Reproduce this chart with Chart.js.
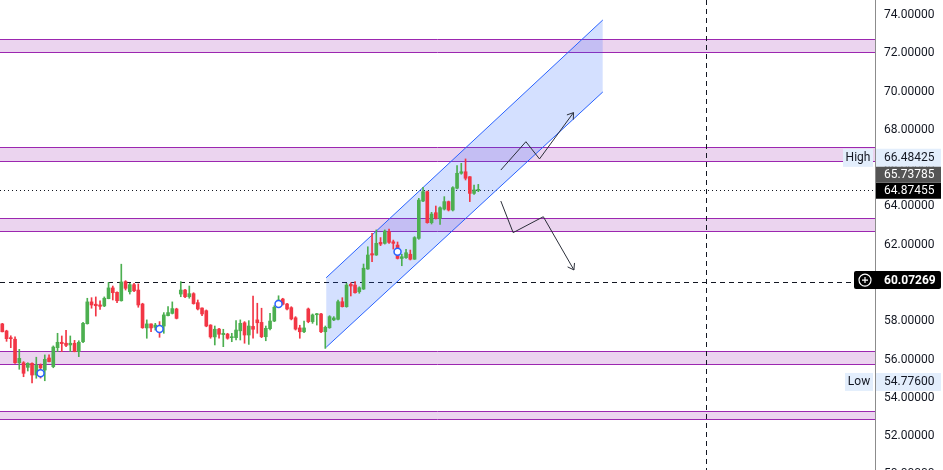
<!DOCTYPE html>
<html>
<head>
<meta charset="utf-8">
<script src="https://cdn.jsdelivr.net/npm/chart.js@4.4.1/dist/chart.umd.min.js"></script>
<style>
html, body { margin: 0; padding: 0; overflow: hidden; background: #fff; }
#wrap { position: relative; width: 943px; height: 482px; }
</style>
</head>
<body>
<div id="wrap"><canvas id="price-chart"></canvas></div>
<script>
// candles (one bar per index)
const opens = [57.86,57.49,57.12,57.06,55.83,55.83,55.59,55.80,55.19,55.71,
  55.45,56.08,55.63,56.62,56.90,56.85,56.76,56.85,56.41,56.93,
  57.87,59.01,58.89,58.85,58.80,59.18,59.74,59.51,59.07,60.07,
  59.54,59.91,59.63,58.90,57.65,57.86,57.68,57.71,57.75,58.29,
  58.41,58.64,59.42,59.63,59.28,59.44,58.97,58.69,58.55,57.80,
  57.18,57.59,57.30,57.33,57.14,57.14,57.50,57.92,57.28,57.73,
  58.07,57.94,57.19,57.61,58.01,58.85,59.16,58.90,58.71,58.18,
  57.65,57.45,58.64,57.98,58.34,58.38,57.45,57.66,58.07,58.10,
  59.02,58.76,59.93,59.89,59.54,59.68,60.73,61.53,61.46,62.12,
  62.07,62.68,62.15,61.98,61.28,61.32,61.50,61.24,62.33,64.28,
  64.77,63.15,63.67,63.38,63.86,64.25,63.81,64.95,65.73,65.81,
  65.55,64.68,64.84];
const highs = [57.89,57.53,57.24,57.18,56.53,55.89,55.83,55.83,56.12,55.77,
  56.24,56.24,56.71,57.37,57.23,57.53,57.23,57.00,56.98,57.94,
  59.20,59.23,59.27,59.06,59.27,60.03,59.84,59.54,60.98,60.12,
  59.98,59.98,59.95,58.94,58.07,57.87,57.89,57.98,58.45,58.76,
  59.01,58.68,60.07,59.67,59.84,59.49,59.11,58.70,58.59,57.82,
  57.75,57.63,57.58,57.37,57.37,58.03,58.07,57.98,58.03,59.32,
  58.94,58.68,57.75,58.41,58.81,59.33,59.20,58.94,58.76,58.24,
  57.79,58.01,58.69,58.38,58.41,58.41,57.75,58.29,58.24,59.11,
  59.23,59.98,60.01,60.07,59.80,60.99,61.89,62.59,62.77,62.37,
  62.77,62.82,62.24,62.14,61.50,61.76,61.72,62.42,64.42,65.00,
  64.80,63.69,64.02,63.98,64.51,64.28,65.03,66.13,66.25,66.48,
  65.56,65.12,65.15];
const lows = [57.44,56.95,56.62,55.80,55.49,55.10,55.40,54.78,55.02,55.03,
  54.89,55.87,55.57,56.41,56.41,56.67,56.41,56.40,56.15,56.88,
  57.85,58.68,58.27,58.62,58.76,59.17,59.11,58.97,59.05,59.63,
  59.42,59.54,58.73,57.63,57.11,57.45,57.54,57.16,57.37,58.28,
  58.38,58.12,59.28,59.23,59.20,58.89,58.59,58.29,57.71,57.11,
  56.76,57.11,56.67,57.06,56.93,57.02,57.02,56.85,56.79,57.11,
  57.37,57.14,56.98,57.54,57.98,58.83,58.85,58.59,58.07,57.54,
  57.11,57.40,57.92,57.89,57.80,57.40,56.58,57.63,58.03,58.07,
  58.74,58.73,59.32,59.46,59.46,59.66,60.71,61.11,61.44,61.95,
  62.03,62.07,61.77,61.25,60.90,61.28,61.20,61.23,62.28,64.25,
  63.12,63.08,63.34,63.06,63.81,63.76,63.76,64.91,65.68,65.38,
  64.25,64.63,64.77];
const closes = [57.45,57.09,57.09,55.83,56.06,55.28,55.80,55.19,55.71,55.56,
  56.01,55.89,56.65,56.90,56.83,56.74,56.85,56.41,56.90,57.89,
  59.01,58.85,58.81,58.78,59.20,59.74,59.49,59.07,60.05,59.72,
  59.91,59.59,58.85,57.66,57.86,57.65,57.80,57.45,58.33,58.45,
  58.66,58.15,59.63,59.28,59.44,58.92,58.64,58.38,57.75,57.18,
  57.58,57.32,57.37,57.11,57.19,57.54,57.89,57.28,57.75,57.58,
  57.92,57.19,57.63,58.01,58.73,59.11,58.89,58.64,58.12,57.59,
  57.45,57.65,57.98,58.33,58.38,57.45,57.68,58.24,58.17,59.02,
  58.76,59.89,59.84,59.49,59.75,60.77,61.46,61.46,62.07,62.03,
  62.71,62.12,62.07,61.28,61.37,61.58,61.24,62.37,64.33,64.77,
  63.15,63.60,63.38,63.93,64.25,63.81,64.98,65.73,65.81,65.47,
  64.68,64.86,64.87];

// horizontal zones (support / resistance bands)
const zoneLows  = [72.07, 66.37, 62.72, 55.77, 52.89];
const zoneHighs = [72.73, 67.10, 63.39, 56.45, 53.31];

// rising channel: [startIndex, endIndex] and prices at both ends
const channelX     = [76.2, 141.3];
const channelLower = [56.64, 69.98];
const channelUpper = [60.27, 73.74];

// projected paths
const upPathX   = [117.3, 123.2, 126.4, 134.4];
const upPathY   = [65.90, 67.38, 66.48, 68.90];
const downPathX = [117.3, 120.2, 127.3, 134.5];
const downPathY = [64.28, 62.63, 63.46, 60.68];

// circle markers
const markX = [9, 37, 65, 93];
const markY = [55.28, 57.59, 58.90, 61.63];

// reference prices
const lastPrice = 64.87455;
const prevClose = 65.73785;
const markPrice = 60.07269;
const highPrice = 66.48425;
const lowPrice  = 54.77600;
const sessionX  = 165.6;

const priceTicks = [50, 52, 54, 56, 58, 60, 62, 64, 66, 68, 70, 72, 74];

const UP = '#4caf50', DOWN = '#f23645', INK = '#131722';
const candleColor = ctx => closes[ctx.dataIndex] >= opens[ctx.dataIndex] ? UP : DOWN;
const xy = (xs, ys) => xs.map((x, i) => ({x: x, y: ys[i]}));

const bodies = opens.map((o, i) => ({x: i, y: [Math.min(o, closes[i]), Math.max(o, closes[i])]}));
const wicks = lows.map((l, i) => ({x: i, y: [l, highs[i]]}));

const backdrop = {
  id: 'backdrop',
  beforeDatasetsDraw(chart) {
    const {ctx, chartArea: a, scales: {x, y}} = chart;
    ctx.save();
    zoneLows.forEach((lo, i) => {
      const top = Math.round(y.getPixelForValue(zoneHighs[i])) + 0.5;
      const bot = Math.round(y.getPixelForValue(lo)) + 0.5;
      ctx.fillStyle = 'rgba(156,39,176,0.2)';
      ctx.fillRect(a.left, top, a.right - a.left, bot - top);
      ctx.strokeStyle = '#9c27b0';
      ctx.lineWidth = 1;
      ctx.beginPath();
      ctx.moveTo(a.left, top); ctx.lineTo(a.right, top);
      ctx.moveTo(a.left, bot); ctx.lineTo(a.right, bot);
      ctx.stroke();
    });
    ctx.strokeStyle = INK;
    ctx.lineWidth = 1;
    // session divider
    const vx = Math.round(x.getPixelForValue(sessionX)) + 0.5;
    ctx.setLineDash([5, 4]);
    ctx.beginPath(); ctx.moveTo(vx, a.top); ctx.lineTo(vx, a.bottom); ctx.stroke();
    // mark price line
    const my = Math.round(y.getPixelForValue(markPrice)) + 0.5;
    ctx.beginPath(); ctx.moveTo(a.left, my); ctx.lineTo(a.right - 21, my); ctx.stroke();
    // last price line
    const ly = Math.round(y.getPixelForValue(lastPrice)) + 0.5;
    ctx.setLineDash([1, 3]);
    ctx.beginPath(); ctx.moveTo(a.left, ly); ctx.lineTo(a.right, ly); ctx.stroke();
    ctx.restore();
  }
};

const arrowHeads = {
  id: 'arrowHeads',
  afterDatasetsDraw(chart) {
    const ctx = chart.ctx;
    chart.data.datasets.forEach((ds, i) => {
      if (!ds.arrow) return;
      const pts = chart.getDatasetMeta(i).data;
      const p = pts[pts.length - 1], q = pts[pts.length - 2];
      const ang = Math.atan2(p.y - q.y, p.x - q.x);
      ctx.save();
      ctx.strokeStyle = ds.borderColor;
      ctx.lineWidth = 1;
      ctx.beginPath();
      ctx.moveTo(p.x - 7 * Math.cos(ang - 0.6), p.y - 7 * Math.sin(ang - 0.6));
      ctx.lineTo(p.x, p.y);
      ctx.lineTo(p.x - 7 * Math.cos(ang + 0.6), p.y - 7 * Math.sin(ang + 0.6));
      ctx.stroke();
      ctx.restore();
    });
  }
};

function tag(ctx, x, y, w, h, bg, fg, text, opts) {
  opts = opts || {};
  ctx.fillStyle = bg;
  ctx.beginPath();
  if (opts.radius) ctx.roundRect(x, y, w, h, opts.radius); else ctx.rect(x, y, w, h);
  ctx.fill();
  ctx.fillStyle = fg;
  ctx.font = (opts.bold ? 'bold ' : '') + '12px Roboto';
  ctx.textBaseline = 'middle';
  ctx.textAlign = opts.center ? 'center' : 'left';
  ctx.fillText(text, opts.center ? x + w / 2 : opts.tx, y + h / 2 + 0.5);
}

const axisTags = {
  id: 'axisTags',
  afterDraw(chart) {
    const {ctx, chartArea: a, scales: {y}} = chart;
    const r = a.right, tx = r + 9, w = 65;
    ctx.save();
    let py = y.getPixelForValue(highPrice) - 1;
    tag(ctx, r - 32, py - 9, 30, 18, '#e3eefc', INK, 'High', {center: true});
    tag(ctx, r + 1, py - 9, w, 18, '#e3eefc', INK, highPrice.toFixed(5), {tx: tx});
    py = y.getPixelForValue(lastPrice) + 1;
    tag(ctx, r + 1, py - 8, w, 16, '#000000', '#ffffff', lastPrice.toFixed(5), {tx: tx});
    tag(ctx, r + 1, py - 24, w, 16, '#555555', '#ffffff', prevClose.toFixed(5), {tx: tx});
    py = y.getPixelForValue(lowPrice) - 1;
    tag(ctx, r - 30, py - 9, 28, 18, '#e3eefc', INK, 'Low', {center: true});
    tag(ctx, r + 1, py - 9, w, 18, '#e3eefc', INK, lowPrice.toFixed(5), {tx: tx});
    py = y.getPixelForValue(markPrice) - 1.5;
    tag(ctx, r - 21, py - 9, w + 22, 18, '#000000', '#ffffff', markPrice.toFixed(5), {tx: tx, bold: true, radius: 2});
    ctx.strokeStyle = '#ffffff';
    ctx.lineWidth = 1.2;
    ctx.beginPath(); ctx.arc(r - 10, py, 6, 0, Math.PI * 2); ctx.stroke();
    ctx.beginPath();
    ctx.moveTo(r - 13, py); ctx.lineTo(r - 7, py);
    ctx.moveTo(r - 10, py - 3); ctx.lineTo(r - 10, py + 3);
    ctx.stroke();
    ctx.restore();
  }
};

Chart.defaults.font.family = 'Roboto';
Chart.defaults.font.size = 12;
Chart.defaults.color = INK;

new Chart(document.getElementById('price-chart'), {
  type: 'bar',
  data: {
    datasets: [
      {type: 'line', data: xy(markX, markY), showLine: false, pointRadius: 3.5,
        pointBorderWidth: 1.5, pointBorderColor: '#2962ff', pointBackgroundColor: '#ffffff', order: -1},
      {data: bodies, backgroundColor: candleColor, barThickness: 3, minBarLength: 1, grouped: false, order: 0},
      {data: wicks, backgroundColor: candleColor, barThickness: 1, grouped: false, order: 1},
      {type: 'line', data: xy(upPathX, upPathY), borderColor: '#2a2e39', borderWidth: 1,
        pointRadius: 0, fill: false, arrow: true, order: 2},
      {type: 'line', data: xy(downPathX, downPathY), borderColor: '#2a2e39', borderWidth: 1,
        pointRadius: 0, fill: false, arrow: true, order: 2},
      {type: 'line', data: xy(channelX, channelUpper), borderColor: '#2962ff', borderWidth: 1,
        pointRadius: 0, fill: '+1', backgroundColor: 'rgba(41,98,255,0.2)', order: 5},
      {type: 'line', data: xy(channelX, channelLower), borderColor: '#2962ff', borderWidth: 1,
        pointRadius: 0, fill: false, order: 6}
    ]
  },
  options: {
    responsive: true,
    maintainAspectRatio: false,
    animation: false,
    layout: {padding: 0, autoPadding: false},
    plugins: {legend: {display: false}, tooltip: {enabled: false}},
    scales: {
      x: {type: 'linear', min: -0.54, max: 205.34, display: false, offset: false},
      y: {
        position: 'right',
        min: 49.60,
        max: 74.784,
        grid: {display: false, drawTicks: false},
        border: {display: true, color: '#8c8c8c'},
        ticks: {padding: 9, autoSkip: false, includeBounds: false, color: INK,
          callback: v => Number(v).toFixed(5)},
        afterBuildTicks: s => { s.ticks = priceTicks.map(v => ({value: v})); },
        afterFit: s => { s.width = 68; s.paddingTop = 0; s.paddingBottom = 0; }
      }
    }
  },
  plugins: [backdrop, arrowHeads, axisTags]
});
</script>
</body>
</html>
